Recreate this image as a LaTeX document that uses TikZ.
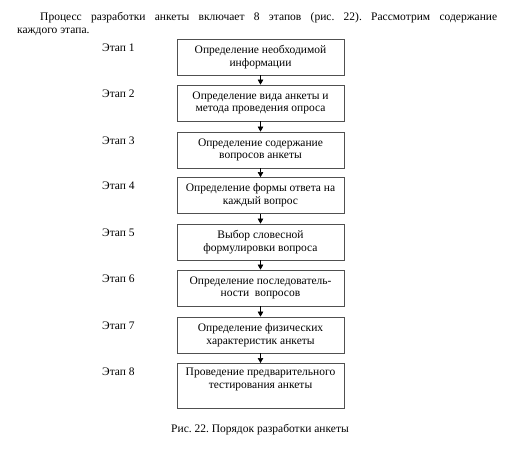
\documentclass[tikz,border=0pt]{standalone}
\usepackage{fontspec}
\setmainfont{Liberation Serif}
\usetikzlibrary{arrows.meta}
\definecolor{boxline}{HTML}{505050}
\frenchspacing
\begin{document}
\begin{tikzpicture}[x=1pt,y=-1pt,
  stepbox/.style={draw=boxline, line width=0.8pt, minimum width=167pt, minimum height=36pt,
    inner sep=0pt, align=center, font=\fontsize{11.5}{12.7}\selectfont},
  steplabel/.style={anchor=base west, inner sep=0pt, font=\fontsize{11.5}{12.7}\selectfont},
  txt/.style={inner sep=0pt, font=\fontsize{11.5}{12.7}\selectfont},
  flow/.style={-{Triangle[length=5pt,width=5.5pt]}, line width=0.6pt, black}]
\useasboundingbox (0,0) rectangle (512,450);
\fill[white] (0,0) rectangle (512,450);
\node[txt, anchor=base west] (p1) at (40,20) {\makebox[457pt][s]{Процесс разработки анкеты включает 8 этапов (рис. 22). Рассмотрим содержание}};
\node[txt, anchor=base west] (p2) at (17,33) {каждого этапа.};
\node[stepbox] (b1) at (260.5,57) {Определение необходимой\\информации};
\node[stepbox] (b2) at (260.5,103) {Определение вида анкеты и\\метода проведения опроса};
\node[stepbox] (b3) at (260.5,150) {Определение содержание\\вопросов анкеты};
\node[stepbox] (b4) at (260.5,195.5) {Определение формы ответа на\\каждый вопрос};
\node[stepbox] (b5) at (260.5,242) {Выбор словесной\\формулировки вопроса};
\node[stepbox] (b6) at (260.5,288) {Определение последователь-\\ности\ \ вопросов};
\node[stepbox] (b7) at (260.5,335) {Определение физических\\характеристик анкеты};
\node[stepbox, minimum height=45pt, anchor=north] (b8) at (260.5,363) {};
\node[txt, align=center, anchor=north] (t8) at ([yshift=-5pt]b8.north) {Проведение предварительного\\тестирования анкеты};
\foreach \i/\y in {1/39,2/85,3/132,4/177,5/224,6/270,7/317,8/363}
  \node[steplabel] (l\i) at (102,\y+12) {Этап \i};
\draw[flow] (b1) -- (b2);
\draw[flow] (b2) -- (b3);
\draw[flow] (b3) -- (b4);
\draw[flow] (b4) -- (b5);
\draw[flow] (b5) -- (b6);
\draw[flow] (b6) -- (b7);
\draw[flow] (b7) -- (b8);
\node[txt, anchor=base] (cap) at (260,432) {Рис. 22. Порядок разработки анкеты};
\end{tikzpicture}
\end{document}
